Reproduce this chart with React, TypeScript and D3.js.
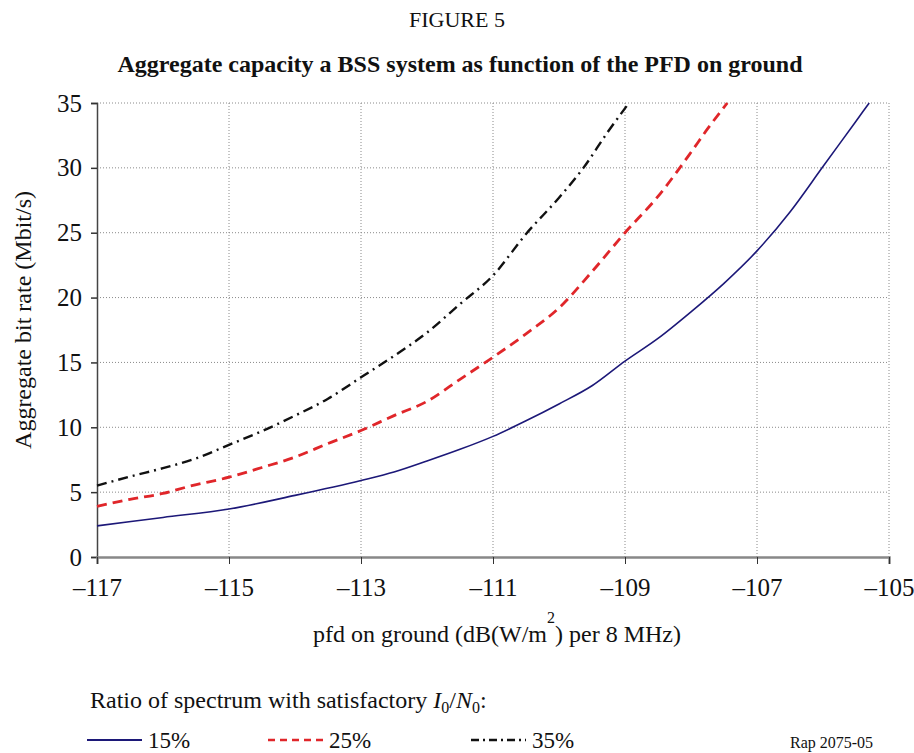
import React, { useEffect, useRef } from 'react';
import * as d3 from 'd3';

// pfd on ground (dB(W/m2) per 8 MHz) vs aggregate bit rate (Mbit/s)
const xTicks = [-117, -115, -113, -111, -109, -107, -105];
const yTicks = [0, 5, 10, 15, 20, 25, 30, 35];

const pfd15 = [-117, -116, -115, -114, -113, -112.5, -112, -111.5, -111, -110.5, -110, -109.5, -109, -108.5, -108, -107.5, -107, -106.5, -106, -105.5, -105.3];
const rate15 = [2.4, 3.05, 3.7, 4.75, 5.9, 6.55, 7.4, 8.3, 9.3, 10.5, 11.8, 13.2, 15.1, 16.85, 18.9, 21.1, 23.6, 26.6, 30.1, 33.6, 35];

const pfd25 = [-117, -116.5, -116, -115.6, -115, -114.5, -114, -113.5, -113, -112.5, -112, -111.5, -111, -110.5, -110, -109.5, -109, -108.5, -108, -107.75, -107.45];
const rate25 = [3.9, 4.45, 4.9, 5.45, 6.15, 6.9, 7.7, 8.75, 9.75, 10.9, 12.0, 13.7, 15.4, 17.2, 19.2, 22.0, 25.0, 27.8, 31.2, 33.0, 35];

const pfd35 = [-117, -116.5, -116, -115.5, -115, -114.5, -114, -113.5, -113, -112.5, -112, -111.5, -111, -110.5, -110, -109.63, -109.27, -108.94];
const rate35 = [5.5, 6.2, 6.85, 7.6, 8.65, 9.7, 10.9, 12.2, 13.85, 15.5, 17.3, 19.5, 21.7, 24.9, 27.7, 30, 32.7, 35];

const seriesNames = ['15%', '25%', '35%'];

const FONT = '"Liberation Serif", "Times New Roman", serif';

const App = () => {
  const gRef = useRef<SVGGElement>(null);

  useEffect(() => {
    const left = 97, right = 889, top = 103, bottom = 557;

    const g = d3.select(gRef.current);
    g.selectAll('*').remove();

    const x = d3.scaleLinear().domain([-117, -105]).range([left, right]);
    const y = d3.scaleLinear().domain([0, 35]).range([bottom, top]);

    // grid
    const grid = g.append('g');
    grid.selectAll('line.h')
      .data(yTicks.filter(d => d > 0))
      .enter()
      .append('line')
      .attr('x1', left).attr('x2', right)
      .attr('y1', d => y(d)).attr('y2', d => y(d))
      .attr('stroke', '#8a8a8a')
      .attr('stroke-width', 1)
      .attr('stroke-dasharray', '1,2');
    grid.selectAll('line.v')
      .data(xTicks.slice(1))
      .enter()
      .append('line')
      .attr('x1', d => x(d)).attr('x2', d => x(d))
      .attr('y1', top).attr('y2', bottom)
      .attr('stroke', '#8a8a8a')
      .attr('stroke-width', 1)
      .attr('stroke-dasharray', '1,2');

    // y axis
    const yAxis = g.append('g')
      .attr('transform', `translate(${left},0)`)
      .call(d3.axisLeft(y).tickValues(yTicks).tickSize(6).tickPadding(9).tickFormat(d3.format('d')));
    yAxis.attr('font-family', FONT).attr('font-size', 25);
    yAxis.select('.domain').attr('stroke', '#444').attr('stroke-width', 1.5);
    yAxis.selectAll('.tick line').attr('stroke', '#333').attr('stroke-width', 1.5);
    yAxis.selectAll('text').attr('fill', '#111');

    // x axis
    const xAxis = g.append('g')
      .attr('transform', `translate(0,${bottom})`)
      .call(d3.axisBottom(x).tickValues(xTicks).tickSize(7).tickPadding(14)
        .tickFormat(d => `\u2013${Math.abs(+d)}`));
    xAxis.attr('font-family', FONT).attr('font-size', 25);
    xAxis.select('.domain').attr('stroke', '#888').attr('stroke-width', 2.5);
    xAxis.selectAll('.tick line').attr('stroke', '#333').attr('stroke-width', 1);
    xAxis.selectAll('text').attr('fill', '#111');

    const line = d3.line<[number, number]>()
      .x(d => x(d[0]))
      .y(d => y(d[1]))
      .curve(d3.curveMonotoneX);

    const series = [
      { xs: pfd15, ys: rate15, color: '#1c1878', width: 1.6, dash: null },
      { xs: pfd25, ys: rate25, color: '#e0262a', width: 2.8, dash: '10,6' },
      { xs: pfd35, ys: rate35, color: '#111111', width: 2.4, dash: '10,5,2,5' },
    ];

    series.forEach(s => {
      const pts = s.xs.map((v, i) => [v, s.ys[i]] as [number, number]);
      g.append('path')
        .datum(pts)
        .attr('d', line)
        .attr('fill', 'none')
        .attr('stroke', s.color)
        .attr('stroke-width', s.width)
        .attr('stroke-dasharray', s.dash);
    });

    // legend
    const legendX = [87, 268, 471];
    const lg = g.append('g');
    series.forEach((s, i) => {
      lg.append('line')
        .attr('x1', legendX[i]).attr('x2', legendX[i] + 55)
        .attr('y1', 740).attr('y2', 740)
        .attr('stroke', s.color)
        .attr('stroke-width', i === 0 ? 2 : 2.5)
        .attr('stroke-dasharray', i === 0 ? null : i === 1 ? '7,5' : '8,4,2,4');
      lg.append('text')
        .attr('x', legendX[i] + 61)
        .attr('y', 748)
        .attr('font-family', FONT)
        .attr('font-size', 23)
        .attr('fill', '#111')
        .text(seriesNames[i]);
    });
  }, []);

  return (
    <svg width={914} height={753} style={{ position: 'absolute', left: 0, top: 0 }}
      fontFamily={FONT}>
      <text x={457} y={27} textAnchor="middle" fontSize={22} fill="#111">FIGURE 5</text>
      <text x={460} y={72} textAnchor="middle" fontSize={24} fontWeight="bold" fill="#111">
        Aggregate capacity a BSS system as function of the PFD on ground
      </text>
      <text transform="translate(31,320) rotate(-90)" textAnchor="middle" fontSize={24} fill="#111">
        Aggregate bit rate (Mbit/s)
      </text>
      <text x={497} y={642} textAnchor="middle" fontSize={24} fill="#111">
        pfd on ground (dB(W/m<tspan dy={-19} fontSize={16}>2</tspan><tspan dy={19}>) per 8 MHz)</tspan>
      </text>
      <text x={90} y={708} fontSize={24} fill="#111">
        Ratio of spectrum with satisfactory <tspan fontStyle="italic">I</tspan><tspan dy={5} fontSize={16}>0</tspan><tspan dy={-5}>/</tspan><tspan fontStyle="italic">N</tspan><tspan dy={5} fontSize={16}>0</tspan><tspan dy={-5}>:</tspan>
      </text>
      <text x={790} y={748} fontSize={16} fill="#111">Rap 2075-05</text>
      <g ref={gRef} />
    </svg>
  );
};

export default App;
